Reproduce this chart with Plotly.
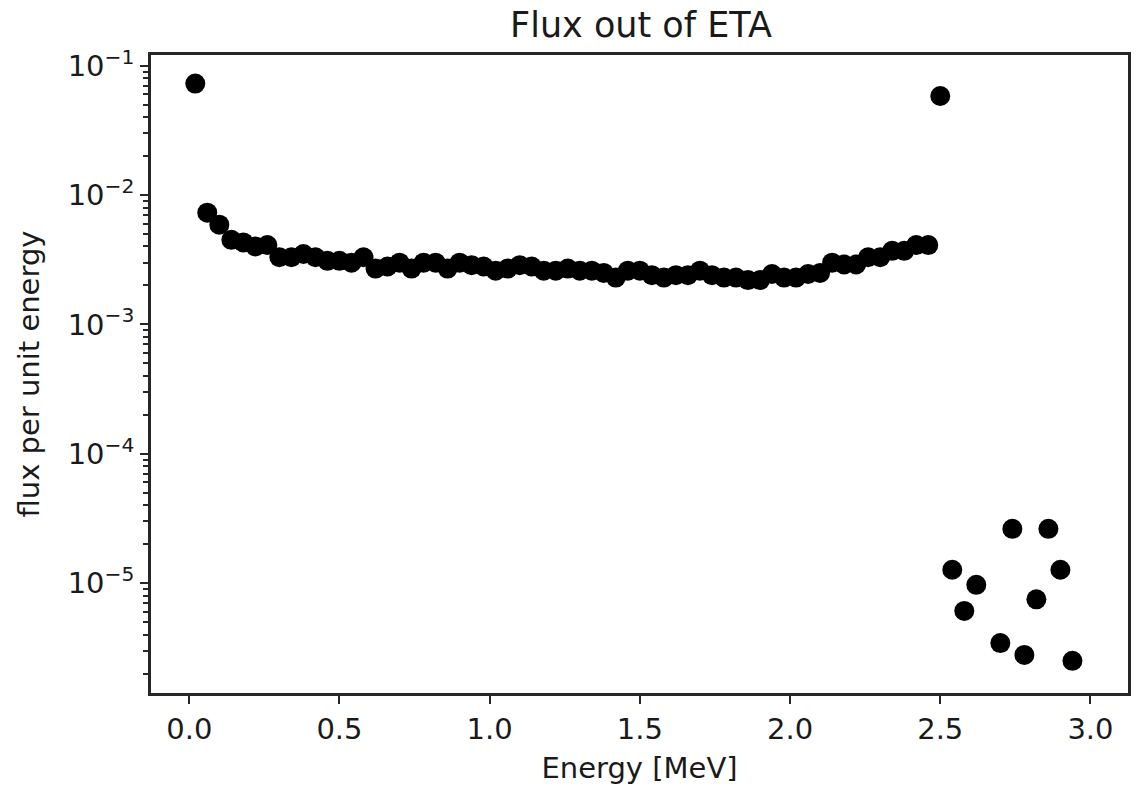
import plotly.graph_objects as go

# Energy bin centres [MeV]
energy = [0.02, 0.06, 0.10, 0.14, 0.18, 0.22, 0.26, 0.30, 0.34, 0.38,
          0.42, 0.46, 0.50, 0.54, 0.58, 0.62, 0.66, 0.70, 0.74, 0.78,
          0.82, 0.86, 0.90, 0.94, 0.98, 1.02, 1.06, 1.10, 1.14, 1.18,
          1.22, 1.26, 1.30, 1.34, 1.38, 1.42, 1.46, 1.50, 1.54, 1.58,
          1.62, 1.66, 1.70, 1.74, 1.78, 1.82, 1.86, 1.90, 1.94, 1.98,
          2.02, 2.06, 2.10, 2.14, 2.18, 2.22, 2.26, 2.30, 2.34, 2.38,
          2.42, 2.46, 2.50,
          2.54, 2.58, 2.62, 2.70, 2.74, 2.78, 2.82, 2.86, 2.90, 2.94]

# Flux per unit energy
flux = [0.0726, 0.0073, 0.0059, 0.0045, 0.0043, 0.0040, 0.0041, 0.0033, 0.0033, 0.0035,
        0.0033, 0.0031, 0.0031, 0.0030, 0.0033, 0.0027, 0.0028, 0.0030, 0.0027, 0.0030,
        0.0030, 0.0027, 0.0030, 0.00287, 0.0028, 0.0026, 0.0027, 0.00287, 0.0028, 0.0026,
        0.0026, 0.0027, 0.0026, 0.0026, 0.0025, 0.0023, 0.0026, 0.0026, 0.0024, 0.0023,
        0.0024, 0.0024, 0.0026, 0.0024, 0.0023, 0.0023, 0.0022, 0.0022, 0.00245, 0.0023,
        0.0023, 0.00245, 0.0025, 0.0030, 0.0029, 0.0029, 0.0033, 0.0033, 0.0037, 0.0037,
        0.0041, 0.0041, 0.0582,
        1.27e-5, 6.1e-6, 9.7e-6, 3.44e-6, 2.63e-5, 2.79e-6, 7.5e-6, 2.63e-5, 1.27e-5, 2.51e-6]

x_ticks = [0.0, 0.5, 1.0, 1.5, 2.0, 2.5, 3.0]
x_tick_labels = ["0.0", "0.5", "1.0", "1.5", "2.0", "2.5", "3.0"]
y_ticks = [1e-5, 1e-4, 1e-3, 1e-2, 1e-1]
y_tick_labels = ["10<sup>−5</sup>", "10<sup>−4</sup>", "10<sup>−3</sup>",
                 "10<sup>−2</sup>", "10<sup>−1</sup>"]

FONT = "DejaVu Sans"
AX = "#262626"
TXT = "#1a1a1a"

fig = go.Figure()
fig.add_trace(go.Scatter(
    x=energy, y=flux, mode="markers",
    marker=dict(color="black", size=20, line=dict(width=0)),
    showlegend=False,
))

fig.update_layout(
    width=1136, height=793,
    margin=dict(l=151, r=5, t=55, b=100),
    plot_bgcolor="white", paper_bgcolor="white",
    font=dict(family=FONT, color=TXT, size=29),
    title=dict(text="Flux out of ETA", x=(151 + 1131) / 2 / 1136, xanchor="center",
               y=1 - 25 / 793, yanchor="middle", font=dict(size=35, family=FONT, color=TXT)),
)

fig.update_xaxes(
    range=[-0.1274, 3.125],
    tickvals=x_ticks, ticktext=x_tick_labels,
    showgrid=False, zeroline=False,
    showline=True, mirror=True, linecolor=AX, linewidth=2.5,
    ticks="outside", ticklen=8, tickwidth=2, tickcolor=AX,
    tickfont=dict(size=29, family=FONT, color=TXT),
    title=dict(text="Energy [MeV]", font=dict(size=29, family=FONT, color=TXT), standoff=14),
)

fig.update_yaxes(
    type="log",
    range=[-5.849, -0.918],
    tickvals=y_ticks, ticktext=y_tick_labels,
    showgrid=False, zeroline=False,
    showline=True, mirror=True, linecolor=AX, linewidth=2.5,
    ticks="outside", ticklen=8, tickwidth=2, tickcolor=AX,
    tickfont=dict(size=29, family=FONT, color=TXT),
    minor=dict(ticks="outside", ticklen=5, tickwidth=1.6, tickcolor=AX, dtick="D1", showgrid=False),
    title=dict(text="flux per unit energy", font=dict(size=29, family=FONT, color=TXT), standoff=20),
)

fig.write_html("out.html")
